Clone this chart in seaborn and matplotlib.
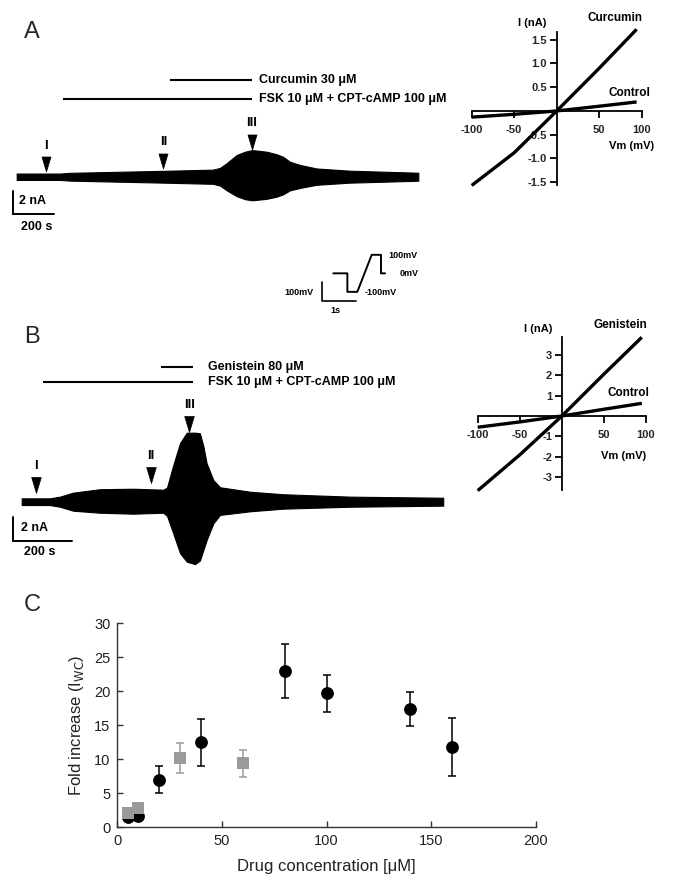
import numpy as np
import pandas as pd
import matplotlib
matplotlib.use("Agg")
import matplotlib.pyplot as plt
import seaborn as sns
from matplotlib.path import Path

# ---------------- data ----------------
# Panel A whole-cell trace envelope (time s, upper/lower current nA)
a_time = [0, 208, 256, 703, 942, 976, 1008, 1056, 1096, 1130, 1200, 1245, 1278, 1312, 1360, 1440, 1600, 1928]
a_upper = [0.27, 0.27, 0.33, 0.50, 0.60, 0.75, 1.15, 1.84, 2.12, 2.26, 2.12, 1.92, 1.70, 1.27, 1.00, 0.70, 0.51, 0.34]
a_lower = [0.27, 0.27, 0.33, 0.50, 0.60, 0.75, 1.15, 1.65, 1.90, 2.00, 1.87, 1.70, 1.50, 1.15, 0.95, 0.68, 0.50, 0.34]
a_fsk = [221, 1131]
a_drug = [736, 1131]
a_arrow_t = [139, 704, 1128]
a_arrow_tip = [0.42, 0.71, 2.35]
arrow_labels = ["I", "II", "III"]

# Panel B whole-cell trace envelope
b_time = [0, 97, 131, 176, 268, 382, 485, 498, 519, 543, 566, 594, 611, 623, 634, 657, 680, 783, 897, 1126, 1445]
b_upper = [0.28, 0.28, 0.42, 0.75, 1.04, 1.08, 1.00, 1.17, 3.0, 4.9, 5.75, 5.75, 5.7, 4.6, 3.2, 1.8, 1.2, 0.83, 0.62, 0.42, 0.33]
b_lower = [0.28, 0.28, 0.42, 0.75, 0.92, 1.00, 0.92, 1.17, 2.6, 4.3, 5.0, 5.2, 4.9, 4.0, 3.2, 1.8, 1.1, 0.80, 0.58, 0.42, 0.33]
b_fsk = [72, 588]
b_drug = [476, 588]
b_arrow_t = [48, 443, 574]
b_arrow_tip = [0.70, 1.53, 5.83]

# Voltage protocol
prot_t = [0, 0.41, 0.41, 0.70, 1.12, 1.39, 1.39, 1.51]
prot_v = [0, 0, -100, -100, 100, 100, 0, 0]

# I-V curves
iv_v_a = [-100, -50, 0, 50, 94]
iv_curc = [-1.57, -0.88, 0, 0.90, 1.72]
iv_ctrl_a = [-0.13, -0.07, 0, 0.10, 0.19]
iv_v_b = [-100, -50, 0, 50, 95]
iv_gen = [-3.65, -1.90, 0, 2.05, 3.85]
iv_ctrl_b = [-0.55, -0.29, 0, 0.33, 0.62]

# Panel C dose response
circ_x = [5, 10, 20, 40, 80, 100, 140, 160]
circ_y = [1.5, 1.7, 7.0, 12.5, 23.0, 19.7, 17.35, 11.8]
circ_err = [0.2, 0.2, 2.0, 3.5, 4.0, 2.7, 2.5, 4.3]
sq_x = [5, 10, 30, 60]
sq_y = [2.15, 2.9, 10.2, 9.4]
sq_err = [0.4, 0.5, 2.2, 2.0]

# ---------------- figure ----------------
sns.set_theme(style="white")
plt.rcParams["font.family"] = ["Liberation Sans", "DejaVu Sans"]
plt.rcParams["axes.unicode_minus"] = False

W, H = 673, 886
fig = plt.figure(figsize=(W / 100, H / 100), dpi=100)


def px_axes(x0, y0, x1, y1):
    return fig.add_axes([x0 / W, 1 - y1 / H, (x1 - x0) / W, (y1 - y0) / H])


def T(x, y, s, **kw):
    kw.setdefault("va", "center")
    return fig.text(x / W, 1 - y / H, s, **kw)


tri = Path([(-0.3, 0.5), (0.3, 0.5), (0.0, -0.5), (-0.3, 0.5)],
           [Path.MOVETO, Path.LINETO, Path.LINETO, Path.CLOSEPOLY])

bold = dict(fontweight="bold", color="black")


def trace_panel(box, xlim, ylim, t, up, lo, fsk, drug, arr_t, arr_tip, pxs, drug_label,
                sb, sb_txt):
    ax = px_axes(*box)
    ax.set_xlim(*xlim)
    ax.set_ylim(*ylim)
    ax.axis("off")
    t = np.asarray(t)
    ax.fill_between(t, -np.asarray(lo), np.asarray(up), color="black", lw=0.8, edgecolor="black")
    # drug bars
    ax.plot(fsk, [sb["fsk_y"]] * 2, color="black", lw=1.5, solid_capstyle="butt")
    ax.plot(drug, [sb["drug_y"]] * 2, color="black", lw=1.5, solid_capstyle="butt")
    ax.text(sb["txt_t"], sb["drug_y"], drug_label, va="center", ha="left", fontsize=9, **bold)
    ax.text(sb["txt_t"], sb["fsk_y"], "FSK 10 \u03bcM + CPT-cAMP 100 \u03bcM", va="center",
            ha="left", fontsize=9, **bold)
    # arrows
    h_nA = pxs["tri_h"] / pxs["py"]
    for tt, tip, lab in zip(arr_t, arr_tip, arrow_labels):
        ax.plot([tt], [tip + h_nA / 2], marker=tri, markersize=pxs["tri_h"] * 0.72,
                color="black", mec="black", mew=0.5)
        ax.text(tt, tip + h_nA + pxs["lab_gap"] / pxs["py"], " ".join(lab) if False else lab,
                ha="center", va="center", fontsize=9.5, **bold)
    # scale bar
    x0, y0 = sb["sb_t"], sb["sb_i"]
    ax.plot([x0, x0, x0 + 200], [y0 + 2, y0, y0], color="black", lw=1.4,
            solid_joinstyle="miter")
    ax.text(sb_txt[0], sb_txt[1], "2 nA", ha="left", va="center", fontsize=9, **bold)
    ax.text(sb_txt[2], sb_txt[3], "200 s", ha="left", va="center", fontsize=9, **bold)
    return ax


# Panel A trace: px x = 16.7 + 0.2083 t ; px y = 176.7 - 11.8 I
trace_panel((0, 20, 460, 240), (-80.2, 2128.2), (-5.36, 13.28), a_time, a_upper, a_lower,
            a_fsk, a_drug, a_arrow_t, a_arrow_tip, dict(py=11.8, tri_h=15, lab_gap=11),
            "Curcumin 30 \u03bcM",
            dict(fsk_y=6.58, drug_y=8.19, txt_t=1165, sb_t=-19.2, sb_i=-3.19),
            (12.5, -2.06, 19.2, -4.24))

# Panel B trace: px x = 21.7 + 0.2917 t ; px y = 501.7 - 12 I
trace_panel((0, 320, 460, 580), (-74.4, 1502.6), (-6.525, 15.14), b_time, b_upper, b_lower,
            b_fsk, b_drug, b_arrow_t, b_arrow_tip, dict(py=12.0, tri_h=16, lab_gap=11),
            "Genistein 80 \u03bcM",
            dict(fsk_y=10.0, drug_y=11.25, txt_t=640, sb_t=-28.8, sb_i=-3.25),
            (-3.4, -2.17, 7.9, -4.17))

# Voltage protocol inset: px x = 333.3 + 34.3 t ; px y = 273.3 - 0.185 mV
axp = px_axes(300, 240, 420, 320)
axp.set_xlim(-0.971, 2.528)
axp.set_ylim(-252, 180)
axp.axis("off")
sns.lineplot(x=prot_t, y=prot_v, ax=axp, color="black", lw=1.4, sort=False, estimator=None)
axp.plot([-0.338, -0.338, 0.662], [-48, -148, -148], color="black", lw=1.2)
axp.text(-0.58, -105, "100mV", ha="right", va="center", fontsize=6.5, **bold)
axp.text(0.05, -200, "1s", ha="center", va="center", fontsize=6.5, **bold)
axp.text(1.60, 99, "100mV", ha="left", va="center", fontsize=6.5, **bold)
axp.text(1.945, 0, "0mV", ha="left", va="center", fontsize=6.5, **bold)
axp.text(0.924, -105, "-100mV", ha="left", va="center", fontsize=6.5, **bold)


def iv_panel(box, ylim, v, drug, ctrl, yticks, ylabels):
    ax = px_axes(*box)
    ax.set_facecolor("none")
    ax.set_xlim(-100, 100)
    ax.set_ylim(*ylim)
    df = pd.DataFrame({"V": v * 2, "I": list(drug) + list(ctrl),
                       "cond": ["drug"] * len(v) + ["ctrl"] * len(v)})
    sns.lineplot(data=df, x="V", y="I", units="cond", estimator=None, sort=False,
                 color="black", lw=2.4, ax=ax, legend=False)
    for ln in ax.lines:
        ln.set_clip_on(False)
        ln.set_solid_capstyle("butt")
    for s in ["top", "right"]:
        ax.spines[s].set_visible(False)
    ax.spines["left"].set_position(("data", 0))
    ax.spines["bottom"].set_position(("data", 0))
    for s in ["left", "bottom"]:
        ax.spines[s].set_linewidth(1.3)
        ax.spines[s].set_color("black")
    ax.set_xticks([-100, -50, 50, 100])
    ax.set_xticklabels(["-100", "-50", "50", "100"])
    ax.set_yticks(yticks)
    ax.set_yticklabels(ylabels)
    ax.tick_params(axis="both", direction="out", length=5, width=1.3, color="black",
                   labelsize=8, pad=2)
    ax.tick_params(axis="x", pad=5)
    ax.tick_params(left=True, bottom=True)
    for lab in ax.get_xticklabels() + ax.get_yticklabels():
        lab.set_fontweight("bold")
    ax.set_xlabel("")
    ax.set_ylabel("")
    return ax


iv_panel((471.7, 31.7, 641.7, 185), (-1.56, 1.67), iv_v_a, iv_curc, iv_ctrl_a,
         [-1.5, -1.0, -0.5, 0.5, 1.0, 1.5], ["-1.5", "-1.0", "-0.5", "0.5", "1.0", "1.5"])
T(531.7, 23.3, "I (nA)", ha="center", fontsize=8, **bold)
T(615, 18.3, "Curcumin", ha="center", fontsize=8.5, **bold)
T(629.3, 93.3, "Control", ha="center", fontsize=8.5, **bold)
T(631.7, 145.7, "Vm (mV)", ha="center", fontsize=8, **bold)

iv_panel((477.7, 337.3, 646, 490), (-3.62, 3.85), iv_v_b, iv_gen, iv_ctrl_b,
         [-3, -2, -1, 1, 2, 3], ["-3", "-2", "-1", "1", "2", "3"])
T(538, 329, "I (nA)", ha="center", fontsize=8, **bold)
T(620, 325, "Genistein", ha="center", fontsize=8.5, **bold)
T(628.3, 392.7, "Control", ha="center", fontsize=8.5, **bold)
T(623.3, 456, "Vm (mV)", ha="center", fontsize=8, **bold)

# Panel letters
T(31.7, 31.7, "A", ha="center", fontsize=17)
T(31.7, 336.7, "B", ha="center", fontsize=17)
T(32.2, 605, "C", ha="center", fontsize=17)

# Panel C
axc = px_axes(117.3, 623.3, 535.7, 827.3)
axc.set_xlim(0, 200)
axc.set_ylim(0, 30)
axc.errorbar(circ_x, circ_y, yerr=circ_err, fmt="none", ecolor="black", elinewidth=1.1,
             capsize=2.6, capthick=1.1, zorder=2)
sns.scatterplot(x=circ_x, y=circ_y, marker="o", s=85, color="black", edgecolor="black",
                linewidth=0, ax=axc, zorder=3, clip_on=False)
axc.errorbar(sq_x, sq_y, yerr=sq_err, fmt="none", ecolor="#9a9a9a", elinewidth=1.1,
             capsize=2.6, capthick=1.1, zorder=4)
sns.scatterplot(x=sq_x, y=sq_y, marker="s", s=78, color="#9a9a9a", edgecolor="#9a9a9a",
                linewidth=0, ax=axc, zorder=5, clip_on=False)
for s in ["top", "right"]:
    axc.spines[s].set_visible(False)
for s in ["left", "bottom"]:
    axc.spines[s].set_linewidth(1.0)
    axc.spines[s].set_color("#333333")
axc.set_xticks([0, 50, 100, 150, 200])
axc.set_yticks([0, 5, 10, 15, 20, 25, 30])
axc.tick_params(direction="in", length=4, width=1.0, color="#333333", labelsize=10.5,
                labelcolor="#222222", pad=5, left=True, bottom=True)
axc.set_xlabel("Drug concentration [\u03bcM]", fontsize=12, color="#222222", labelpad=8)
axc.set_ylabel("Fold increase (I$_{\\mathrm{WC}}$)", fontsize=12, color="#222222", labelpad=6)

fig.savefig("out.png", dpi=100)
